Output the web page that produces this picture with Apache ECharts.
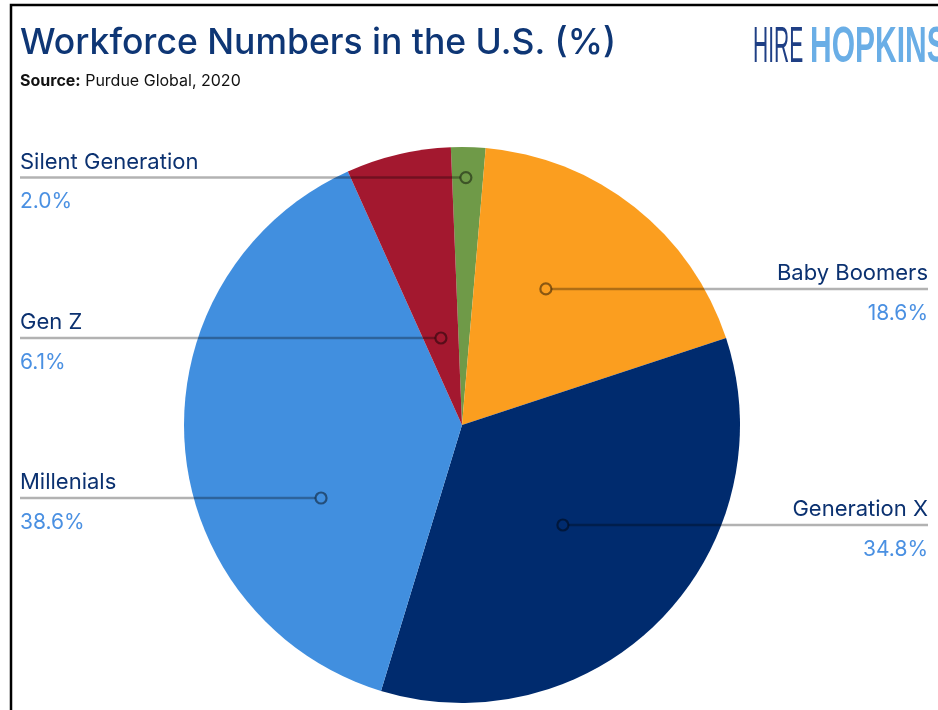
<!DOCTYPE html>
<html>
<head>
<meta charset="utf-8">
<script src="https://cdn.jsdelivr.net/npm/echarts@6/dist/echarts.min.js"></script>
<style>
html,body{margin:0;padding:0;background:#fff;}
#chart{width:938px;height:710px;}
</style>
</head>
<body>
<div id="chart"></div>
<script>
// ---- data ----
const categories = ['Silent Generation', 'Baby Boomers', 'Generation X', 'Millenials', 'Gen Z'];
const shares = [2.0, 18.6, 34.8, 38.6, 6.1];
const sliceColors = ['#6f9a48', '#fb9e1f', '#002b6e', '#418fdf', '#a3182f'];
// ---- annotation layout (where the callout marker sits inside each slice) ----
const markerAngleFrac = [0.445, 0.40, 0.503, 0.329, 0.485];
const markerRadiusFrac = [0.89, 0.575, 0.511, 0.571, 0.322];
const labelSide = ['left', 'right', 'right', 'left', 'left'];

const CX = 462, CY = 425, R = 278;
const START_ANGLE = 92.3;
const LEFT_X = 20, RIGHT_X = 928;

const total = shares.reduce((a, b) => a + b, 0);
const cum = [];
let acc = 0;
shares.forEach(v => { cum.push(acc); acc += v; });

const markerRel = shares.map((v, i) => (cum[i] / total) * 360 + markerAngleFrac[i] * (v / total) * 360);

function markerPixel(i) {
  const a = (90 - START_ANGLE + markerRel[i]) * Math.PI / 180;
  const r = markerRadiusFrac[i] * R;
  return [CX + r * Math.sin(a), CY - r * Math.cos(a)];
}

const chart = echarts.init(document.getElementById('chart'), null, { renderer: 'canvas' });

const option = {
  animation: false,
  backgroundColor: '#ffffff',
  graphic: [
    { type: 'rect', shape: { x: 11, y: 5, width: 1000, height: 1000 }, style: { fill: 'none', stroke: '#000', lineWidth: 2.5 }, silent: true },
    { type: 'text', x: 20, y: 43, style: { text: 'Workforce Numbers in the U.S. (%)', font: '500 35.5px Inter', fill: '#0e3675', textVerticalAlign: 'middle' } },
    { type: 'text', x: 20, y: 81, style: { text: '{b|Source:} Purdue Global, 2020', font: '16px Inter', fill: '#111', textVerticalAlign: 'middle',
        rich: { b: { fontWeight: 'bold', fontFamily: 'Inter', fontSize: 16, fill: '#111' } } } },
    { type: 'text', x: 753, y: 48, scaleX: 0.42, originX: 0, originY: 0, style: { text: 'HIRE', font: '50px "Liberation Sans Narrow", "Liberation Sans"', fill: '#1f3f85', textVerticalAlign: 'middle' } },
    { type: 'text', x: 810, y: 48, scaleX: 0.6, originX: 0, originY: 0, style: { text: 'HOPKINS', font: 'bold 50px "Liberation Sans Narrow", "Liberation Sans"', fill: '#6aaee6', textVerticalAlign: 'middle' } }
  ],
  polar: { center: [CX, CY], radius: R },
  angleAxis: { type: 'value', min: 0, max: 360, startAngle: START_ANGLE, clockwise: true, show: false },
  radiusAxis: { type: 'value', min: 0, max: 1, show: false },
  series: [
    {
      type: 'pie',
      center: [CX, CY],
      radius: R,
      startAngle: START_ANGLE,
      clockwise: true,
      avoidLabelOverlap: false,
      silent: true,
      itemStyle: { borderWidth: 0 },
      data: categories.map((c, i) => ({
        name: c,
        value: shares[i],
        itemStyle: { color: sliceColors[i] },
        label: { align: labelSide[i] }
      })),
      label: {
        show: true,
        position: 'outside',
        formatter: p => '{n|' + p.name + '}\n{v|' + p.value.toFixed(1) + '%}',
        rich: {
          n: { fontFamily: 'Inter', fontSize: 22, color: '#0b3170', lineHeight: 40 },
          v: { fontFamily: 'Inter', fontSize: 21, color: '#4a90e2', lineHeight: 40 }
        }
      },
      labelLine: { show: false },
      labelLayout: function (params) {
        const i = params.dataIndex;
        const p = markerPixel(i);
        return {
          x: labelSide[i] === 'left' ? LEFT_X : RIGHT_X,
          y: p[1] + 4.5,
          align: labelSide[i],
          verticalAlign: 'middle'
        };
      }
    },
    {
      // callout marker + leader line, positioned through the polar scales
      type: 'custom',
      coordinateSystem: 'polar',
      silent: true,
      z: 5,
      encode: { radius: 0, angle: 1 },
      data: markerRel.map((a, i) => [markerRadiusFrac[i], a, labelSide[i] === 'left' ? 0 : 1]),
      renderItem: function (params, api) {
        const pt = api.coord([api.value(0), api.value(1)]);
        const left = api.value(2) === 0;
        const ex = left ? LEFT_X : RIGHT_X;
        const rad = 5.5;
        const sx = left ? pt[0] - rad : pt[0] + rad;
        return {
          type: 'group',
          children: [
            { type: 'line', shape: { x1: sx, y1: pt[1], x2: ex, y2: pt[1] },
              style: { stroke: 'rgba(0,0,0,0.3)', lineWidth: 2.5 } },
            { type: 'circle', shape: { cx: pt[0], cy: pt[1], r: rad },
              style: { fill: 'rgba(0,0,0,0)', stroke: 'rgba(0,0,0,0.45)', lineWidth: 2.2 } }
          ]
        };
      }
    }
  ]
};
chart.setOption(option);
</script>
</body>
</html>
